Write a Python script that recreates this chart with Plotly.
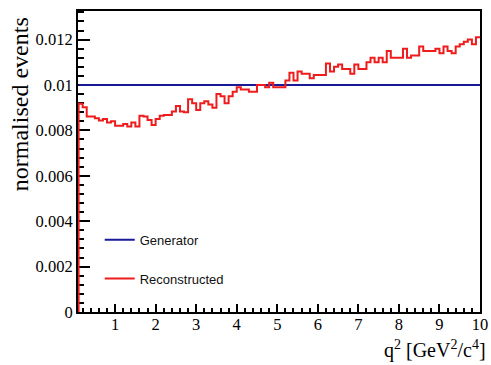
import numpy as np
import plotly.graph_objects as go

# ---- data ----
q2_bin_start = 0.1
q2_bin_width = 0.1
reco_values = [
    0.00917, 0.00902, 0.00861, 0.00861, 0.00854, 0.00844, 0.00850, 0.00835, 0.00840, 0.00820,
    0.00820, 0.00828, 0.00817, 0.00835, 0.00817, 0.00864, 0.00861, 0.00846, 0.00824, 0.00850,
    0.00864, 0.00868, 0.00868, 0.00883, 0.00908, 0.00883, 0.00880, 0.00937, 0.00920, 0.00890,
    0.00920, 0.00928, 0.00914, 0.00900, 0.00960, 0.00950, 0.00920, 0.00950, 0.00970, 0.00990,
    0.00980, 0.00980, 0.00970, 0.00970, 0.01000, 0.01000, 0.00990, 0.01010, 0.00990, 0.00990,
    0.00990, 0.01020, 0.01054, 0.01020, 0.01060, 0.01050, 0.01050, 0.01030, 0.01044, 0.01044,
    0.01044, 0.01095, 0.01060, 0.01080, 0.01090, 0.01070, 0.01070, 0.01050, 0.01090, 0.01070,
    0.01070, 0.01100, 0.01120, 0.01100, 0.01120, 0.01100, 0.01150, 0.01120, 0.01120, 0.01120,
    0.01160, 0.01120, 0.01130, 0.01130, 0.01170, 0.01150, 0.01150, 0.01150, 0.01160, 0.01140,
    0.01170, 0.01150, 0.01140, 0.01170, 0.01180, 0.01190, 0.01200, 0.01180, 0.01210,
]
generator_level = 0.01
x_tick_values = [1, 2, 3, 4, 5, 6, 7, 8, 9, 10]
y_tick_values = [0, 0.002, 0.004, 0.006, 0.008, 0.01, 0.012]
y_tick_labels = ["0", "0.002", "0.004", "0.006", "0.008", "0.01", "0.012"]

# ---- build step histogram ----
edges = q2_bin_start + q2_bin_width * np.arange(len(reco_values) + 1)
x_step = [edges[0]] + list(edges)
y_step = [0.0] + list(reco_values) + [reco_values[-1]]

fig = go.Figure()
fig.add_trace(go.Scatter(
    x=[edges[0], edges[-1]], y=[generator_level, generator_level],
    mode="lines", line=dict(color="#1a1a99", width=2),
    name="Generator", legendgroup="g1",
))
fig.add_trace(go.Scatter(
    x=x_step, y=y_step, mode="lines", line_shape="hv",
    line=dict(color="#ee1c1c", width=2),
    name="Reconstructed", legendgroup="g2",
))

serif = "Liberation Serif, Times New Roman, serif"
fig.update_layout(
    template="none",
    width=491, height=365,
    margin=dict(l=78, r=11, t=11, b=53, autoexpand=False),
    paper_bgcolor="white", plot_bgcolor="white",
    showlegend=True,
    legend=dict(
        x=0.054, y=0.29, xanchor="left", yanchor="top",
        bgcolor="rgba(0,0,0,0)", borderwidth=0,
        font=dict(family="Liberation Sans, Arial, sans-serif", size=13, color="#111"),
        tracegroupgap=19, traceorder="grouped",
    ),
    xaxis=dict(
        range=[0.085, 10.0], tickmode="array", tickvals=x_tick_values,
        ticks="inside", ticklen=8, tickwidth=1.5, tickcolor="black",
        minor=dict(ticks="inside", ticklen=4, tick0=0, dtick=0.2, tickcolor="black", tickwidth=1.5),
        showline=True, linewidth=2, linecolor="black", mirror=True,
        showgrid=False, zeroline=False, layer="below traces", automargin=False,
        ticklabelstandoff=-4,
        tickfont=dict(family=serif, size=16.5, color="black"),
    ),
    yaxis=dict(
        range=[0, 0.01326], tickmode="array", tickvals=y_tick_values, ticktext=y_tick_labels,
        ticks="inside", ticklen=12, tickwidth=1.5, tickcolor="black",
        minor=dict(ticks="inside", ticklen=6, tick0=0, dtick=0.0004, tickcolor="black", tickwidth=1.5),
        showline=True, linewidth=2, linecolor="black", mirror=True,
        showgrid=False, zeroline=False, layer="below traces", automargin=False,
        tickfont=dict(family=serif, size=16.5, color="black"),
    ),
    annotations=[
        dict(text="normalised events", xref="paper", yref="paper",
             x=-0.145, y=0.985, xanchor="center", yanchor="top", textangle=-90,
             showarrow=False, font=dict(family=serif, size=24, color="black")),
        dict(text="q<sup>2</sup> [GeV<sup>2</sup>/c<sup>4</sup>]", xref="paper", yref="paper",
             x=1.02, y=-0.075, xanchor="right", yanchor="top",
             showarrow=False, font=dict(family=serif, size=20, color="black")),
    ],
)

fig.write_html("out.html")
